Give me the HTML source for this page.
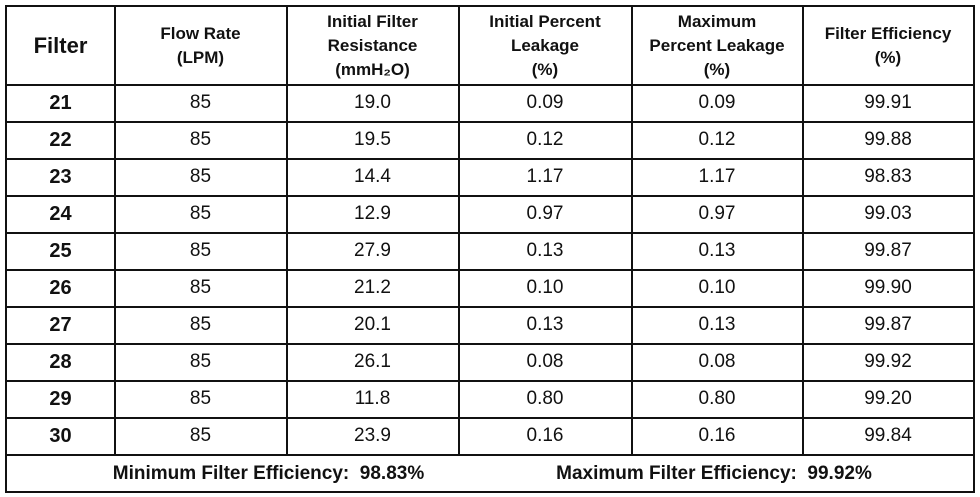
<!DOCTYPE html>
<html><head><meta charset="utf-8"><style>
body{margin:0;width:980px;height:497px;background:#fff;font-family:"Liberation Sans",sans-serif;color:#111;position:relative;overflow:hidden}
.l{position:absolute;background:#111}
.c{position:absolute;display:flex;align-items:center;justify-content:center;text-align:center}
.h{font-weight:bold;font-size:17px;line-height:24px}
.d{font-size:19px}
.f{font-weight:bold;font-size:20px}
</style></head><body>
<div class="l" style="left:5px;top:5px;width:970px;height:2px"></div>
<div class="l" style="left:5px;top:491px;width:970px;height:2px"></div>
<div class="l" style="left:5px;top:5px;width:2px;height:488px"></div>
<div class="l" style="left:973px;top:5px;width:2px;height:488px"></div>
<div class="l" style="left:114px;top:5px;width:1.5px;height:450px"></div>
<div class="l" style="left:286px;top:5px;width:1.5px;height:450px"></div>
<div class="l" style="left:458px;top:5px;width:1.5px;height:450px"></div>
<div class="l" style="left:631px;top:5px;width:1.5px;height:450px"></div>
<div class="l" style="left:802px;top:5px;width:1.5px;height:450px"></div>
<div id="rows"></div>
<div class="c h" style="left:7px;top:7px;width:107px;height:78px;font-size:22px">Filter</div>
<div class="c h" style="left:115px;top:7px;width:171px;height:78px">Flow Rate<br>(LPM)</div>
<div class="c h" style="left:287px;top:7px;width:171px;height:78px">Initial Filter<br>Resistance<br>(mmH₂O)</div>
<div class="c h" style="left:459px;top:7px;width:172px;height:78px">Initial Percent<br>Leakage<br>(%)</div>
<div class="c h" style="left:632px;top:7px;width:170px;height:78px">Maximum<br>Percent Leakage<br>(%)</div>
<div class="c h" style="left:803px;top:7px;width:170px;height:78px">Filter Efficiency<br>(%)</div>
<div class="c h" style="left:7px;top:456px;width:523px;height:35px;font-size:19px">Minimum Filter Efficiency:&nbsp; 98.83%</div>
<div class="c h" style="left:455px;top:456px;width:518px;height:35px;font-size:19px">Maximum Filter Efficiency:&nbsp; 99.92%</div>
<script>
var data=[["21","19.0","0.09","99.91"],["22","19.5","0.12","99.88"],["23","14.4","1.17","98.83"],["24","12.9","0.97","99.03"],["25","27.9","0.13","99.87"],["26","21.2","0.10","99.90"],["27","20.1","0.13","99.87"],["28","26.1","0.08","99.92"],["29","11.8","0.80","99.20"],["30","23.9","0.16","99.84"]];
var xs=[[7,107],[115,171],[287,171],[459,172],[632,170],[803,170]];
var h="";
for(var i=0;i<=10;i++){h+='<div class="l" style="left:5px;top:'+(84+i*37)+'px;width:970px;height:1.5px"></div>';}
data.forEach(function(r,i){var y=85+i*37;var v=[r[0],"85",r[1],r[2],r[2],r[3]];
v.forEach(function(t,j){h+='<div class="c '+(j==0?'f':'d')+'" style="left:'+xs[j][0]+'px;top:'+y+'px;width:'+xs[j][1]+'px;height:36px">'+t+'</div>';});});
document.getElementById("rows").innerHTML=h;
</script>
</body></html>
